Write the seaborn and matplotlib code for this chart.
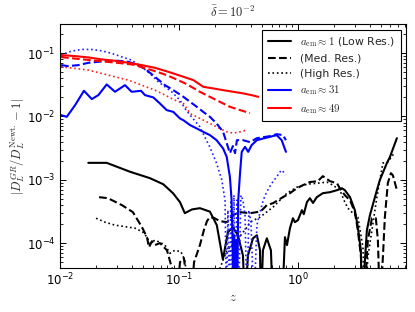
import numpy as np
import pandas as pd
import matplotlib
matplotlib.use("Agg")
import matplotlib.pyplot as plt
from matplotlib.lines import Line2D
import seaborn as sns

# ---------------- data ----------------
# a_em ~ 1, low resolution (black solid)
z_k_low = [0.0173, 0.0247, 0.0387, 0.057, 0.0738, 0.0891, 0.102, 0.112, 0.1286, 0.150, 0.182,
           0.208, 0.234, 0.258, 0.284, 0.313, 0.345, 0.359, 0.380, 0.419, 0.452, 0.48, 0.489,
           0.508, 0.548, 0.593, 0.617, 0.735, 0.778, 0.809, 0.857, 0.908, 0.943, 1.0, 1.08, 1.12,
           1.19, 1.26, 1.34, 1.44, 1.62, 1.86, 2.13, 2.34, 2.48, 2.74, 3.01, 3.19, 3.38, 3.45,
           3.80, 4.03, 4.61, 4.89, 5.60, 5.93, 6.79]
v_k_low = [1.85e-3, 1.85e-3, 1.34e-3, 1.06e-3, 8.5e-4, 6.14e-4, 4.43e-4, 2.97e-4, 3.4e-4, 3.56e-4, 3.14e-4,
           1.92e-4, 5.5e-5, 1.49e-4, 1.78e-4, 1.33e-4, 6.4e-5, 1e-5, 6.4e-5, 1.19e-4, 1.33e-4, 7.7e-5, 1e-5,
           7.7e-5, 1.19e-4, 7.7e-5, 1e-5, 1e-5, 1.24e-4, 9.3e-5, 1.72e-4, 2.47e-4, 2.14e-4, 2.3e-4, 3.31e-4, 2.86e-4,
           4.43e-4, 5.12e-4, 4.3e-4, 5.31e-4, 6.14e-4, 6.37e-4, 6.85e-4, 7.36e-4, 6.85e-4, 5.31e-4, 3.31e-4, 1.78e-4, 7.7e-5, 1e-5,
           1.6e-4, 2.76e-4, 6.85e-4, 1e-3, 1.84e-3, 2.28e-3, 4.54e-3]

# a_em ~ 1, medium resolution (black dashed)
z_k_med = [0.0213, 0.0253, 0.0332, 0.041, 0.0489, 0.0538, 0.056, 0.0593, 0.0628, 0.0692, 0.0793, 0.0891,
           0.095, 0.102, 0.110, 0.124, 0.134, 0.150, 0.162, 0.172, 0.182, 0.197, 0.221, 0.253, 0.284,
           0.326, 0.395, 0.452, 0.498, 0.548, 0.617, 0.748, 0.857, 0.981, 1.10, 1.26, 1.47, 1.62, 1.86,
           2.13, 2.25, 2.48, 2.74, 3.01, 3.19, 3.38, 3.59, 3.87, 4.19, 4.52, 4.70, 4.89, 5.18, 5.38,
           5.70, 6.05, 6.28, 6.79]
v_k_med = [5.31e-4, 5.12e-4, 3.97e-4, 3.08e-4, 1.78e-4, 1.24e-4, 8.6e-5, 1.07e-4, 9.3e-5, 1e-4, 7.7e-5, 3.5e-5,
           1e-5, 5e-5, 5.8e-5, 1e-5, 5e-5, 9.3e-5, 1.6e-4, 2.22e-4, 2.57e-4, 2.5e-4, 2.22e-4, 2.14e-4, 2.76e-4,
           3.08e-4, 2.97e-4, 3.08e-4, 3.31e-4, 3.97e-4, 4.27e-4, 5.31e-4, 6.14e-4, 7.36e-4, 8.2e-4, 9.2e-4, 9.5e-4, 1.14e-3, 9.5e-4,
           8.8e-4, 7.36e-4, 5.7e-4, 4.76e-4, 3.08e-4, 1.6e-4, 6.4e-5, 1e-5, 1.11e-4, 2.47e-4, 2.47e-4, 1.11e-4, 1e-5, 6e-5, 2.57e-4,
           8.9e-4, 1.27e-3, 1.18e-3, 6.85e-4]

# a_em ~ 1, high resolution (black dotted)
z_k_high = [0.0201, 0.0239, 0.0290, 0.0332, 0.0427, 0.0498, 0.0538, 0.057, 0.0628, 0.0692, 0.0763, 0.084,
            0.0924, 0.104, 0.112, 0.124, 0.165, 0.221, 0.253, 0.307, 0.373, 0.395, 0.48, 0.617, 0.809,
            0.981, 1.19, 1.44, 1.75, 1.97, 2.25, 2.48, 2.63, 2.84, 3.19, 3.52, 3.66, 3.87, 4.19, 4.61,
            4.89, 5.18, 5.70, 6.53]
v_k_high = [2.47e-4, 2.14e-4, 1.92e-4, 1.85e-4, 1.72e-4, 1.49e-4, 1.24e-4, 1e-4, 1.11e-4, 1.03e-4, 9.3e-5, 6.9e-5,
            7.7e-5, 7.3e-5, 5.4e-5, 1e-5, 1e-5, 4e-5, 7.7e-5, 1.11e-4, 1.78e-4, 2.14e-4, 2.57e-4, 3.69e-4, 6.14e-4,
            7.64e-4, 8.5e-4, 8.8e-4, 9.2e-4, 8.2e-4, 6.85e-4, 4.43e-4, 3.56e-4, 3.08e-4, 2.57e-4, 8.6e-5, 1e-5, 5.98e-5, 1.6e-4, 5.31e-4,
            1e-3, 1.84e-3, 1.9e-3, 2.73e-3]

# a_em ~ 31, low resolution (blue solid)
z_b_low = [0.0102, 0.0114, 0.0134, 0.0159, 0.0185, 0.0210, 0.0247, 0.0290, 0.0352, 0.040, 0.048, 0.0518,
           0.0608, 0.0692, 0.0788, 0.0896, 0.1019, 0.109, 0.124, 0.141, 0.160, 0.182, 0.207, 0.235, 0.252,
           0.268, 0.277, 0.282, 0.2855, 0.291, 0.297, 0.303, 0.308, 0.315, 0.326, 0.337, 0.359, 0.382,
           0.408, 0.452, 0.511, 0.582, 0.662, 0.730, 0.793]
v_b_low = [1.05e-2, 9.86e-3, 1.51e-2, 2.54e-2, 1.88e-2, 2.17e-2, 3.2e-2, 2.45e-2, 3.12e-2, 2.45e-2, 2.54e-2, 2.17e-2,
           2.0e-2, 1.6e-2, 1.26e-2, 1.18e-2, 9.3e-3, 8.7e-3, 7.3e-3, 6.46e-3, 5.71e-3, 5.07e-3, 4.22e-3, 3.12e-3, 2.3e-3,
           1.11e-3, 4.76e-4, 1.11e-4, 1e-5, 1.33e-4, 1e-5, 1.11e-4, 1e-5, 4.76e-4, 1.26e-3, 2.76e-3, 3.31e-3, 2.76e-3,
           3.52e-3, 4.22e-3, 4.49e-3, 4.76e-3, 5.07e-3, 4.22e-3, 2.76e-3]

# a_em ~ 31, medium resolution (blue dashed)
z_b_med = [0.0102, 0.0117, 0.0143, 0.0173, 0.0210, 0.0255, 0.0309, 0.0375, 0.0455, 0.0535, 0.0628, 0.0763,
           0.0896, 0.109, 0.124, 0.141, 0.160, 0.182, 0.207, 0.235, 0.252, 0.268, 0.284, 0.296, 0.307,
           0.345, 0.395, 0.452, 0.511, 0.582, 0.662, 0.748, 0.793]
v_b_med = [6.46e-2, 6.24e-2, 6.46e-2, 7.03e-2, 7.29e-2, 7.56e-2, 7.56e-2, 7.29e-2, 6.46e-2, 5.39e-2, 4.22e-2, 3.12e-2,
           2.6e-2, 2.04e-2, 1.7e-2, 1.42e-2, 1.18e-2, 9.86e-3, 7.75e-3, 5.71e-3, 3.79e-3, 2.63e-3, 3.4e-3, 2.63e-3, 4.22e-3,
           4.22e-3, 3.93e-3, 4.54e-3, 4.7e-3, 4.89e-3, 5.25e-3, 5.07e-3, 4.22e-3]

# a_em ~ 31, high resolution (blue dotted)
z_b_high = [0.0102, 0.0125, 0.0152, 0.0185, 0.0224, 0.0272, 0.033, 0.040, 0.0486, 0.059, 0.067, 0.0763,
            0.0868, 0.102, 0.112, 0.124, 0.150, 0.165, 0.182, 0.207, 0.229, 0.244, 0.2506, 0.258, 0.2655,
            0.2735, 0.282, 0.290, 0.2985, 0.307, 0.316, 0.332, 0.345, 0.359, 0.373, 0.387, 0.403, 0.427,
            0.452, 0.48, 0.511, 0.546, 0.601, 0.662, 0.706, 0.743, 0.778]
v_b_high = [9.3e-2, 0.1076, 0.1144, 0.114, 0.1087, 9.9e-2, 8.74e-2, 7.75e-2, 6.08e-2, 4.49e-2, 3.52e-2, 2.94e-2,
            2.45e-2, 1.81e-2, 1.34e-2, 1.05e-2, 6.85e-3, 4.71e-3, 3.27e-3, 1.83e-3, 1e-3, 4.76e-4, 1e-5, 3.31e-4, 1e-5,
            4.76e-4, 1e-5, 5.7e-4, 1e-5, 4.76e-4, 1e-5, 5.7e-4, 4.76e-4, 2.76e-4, 1e-5, 3.31e-4, 2.14e-4, 1e-5,
            1.92e-4, 3.08e-4, 4.76e-4, 6.44e-4, 8.74e-4, 1.11e-3, 1.33e-3, 1.41e-3, 1.18e-3]

# a_em ~ 49, low resolution (red solid)
z_r_low = [0.0102, 0.0134, 0.0173, 0.0224, 0.029, 0.0375, 0.0486, 0.0628, 0.0813, 0.105, 0.132, 0.160,
           0.194, 0.235, 0.286, 0.347, 0.408, 0.464]
v_r_low = [9.3e-2, 8.97e-2, 8.55e-2, 7.95e-2, 7.56e-2, 7.03e-2, 6.46e-2, 5.86e-2, 5.07e-2, 4.33e-2, 3.75e-2, 2.94e-2,
           2.77e-2, 2.6e-2, 2.45e-2, 2.31e-2, 2.17e-2, 2.04e-2]

# a_em ~ 49, medium resolution (red dashed)
z_r_med = [0.0102, 0.0134, 0.0179, 0.0239, 0.032, 0.041, 0.0518, 0.0628, 0.0788, 0.0982, 0.116, 0.150,
           0.182, 0.221, 0.268, 0.326, 0.395]
v_r_med = [8.65e-2, 8.19e-2, 7.75e-2, 7.34e-2, 6.95e-2, 6.58e-2, 5.8e-2, 5.2e-2, 4.49e-2, 3.75e-2, 3.24e-2, 2.45e-2,
           2.04e-2, 1.7e-2, 1.42e-2, 1.26e-2, 1.13e-2]

# a_em ~ 49, high resolution (red dotted)
z_r_high = [0.0102, 0.0134, 0.0173, 0.0224, 0.029, 0.0375, 0.0486, 0.0628, 0.0763, 0.0924, 0.109, 0.124,
            0.150, 0.182, 0.221, 0.252, 0.286, 0.326, 0.371]
v_r_high = [6.08e-2, 5.73e-2, 5.39e-2, 4.78e-2, 4.22e-2, 3.75e-2, 3.12e-2, 2.6e-2, 2.17e-2, 1.81e-2, 1.6e-2, 1.11e-2,
            9.3e-3, 7.75e-3, 6.46e-3, 5.71e-3, 5.45e-3, 5.71e-3, 6.08e-3]

legend_labels = [r"$a_{\rm em}\approx 1$ (Low Res.)", "(Med. Res.)", "(High Res.)",
                 r"$a_{\rm em}\approx 31$", r"$a_{\rm em}\approx 49$"]
title_text = r"$\bar{\delta} = 10^{-2}$"
xlabel_text = r"$z$"
ylabel_text = r"$|D_L^{GR}/D_L^{\rm Newt.}-1|$"

# ---------------- plotting ----------------
sns.set_style("ticks")
plt.rcParams["font.family"] = ["DejaVu Sans"]
plt.rcParams["mathtext.fontset"] = "dejavusans"

fig = plt.figure(figsize=(4.15, 3.12), dpi=100)
ax = fig.add_axes([60/415, 1 - 268.3/312, 346/415, 244/312])

series = [
    (z_k_low, v_k_low, "black", "-", 1.5),
    (z_k_med, v_k_med, "black", "--", 1.5),
    (z_k_high, v_k_high, "black", ":", 1.2),
    (z_r_high, v_r_high, "#ff2020", ":", 1.2),
    (z_b_high, v_b_high, "#2020ff", ":", 1.2),
    (z_b_med, v_b_med, "#0000ff", "--", 1.5),
    (z_b_low, v_b_low, "#0000ff", "-", 1.5),
    (z_r_med, v_r_med, "#ff0000", "--", 1.5),
    (z_r_low, v_r_low, "#ff0000", "-", 1.5),
]
for zz, vv, col, ls, lw in series:
    df = pd.DataFrame({"z": zz, "v": vv})
    sns.lineplot(data=df, x="z", y="v", ax=ax, color=col, linestyle=ls, linewidth=lw,
                 estimator=None, sort=False, legend=False)

ax.set_xscale("log")
ax.set_yscale("log")
ax.set_xlim(0.01, 8.1)
ax.set_ylim(4.0e-5, 0.285)

ax.tick_params(which="both", direction="in", top=True, right=True, labelsize=8.5, colors="black")
ax.tick_params(which="major", length=4, width=0.7)
ax.tick_params(which="minor", length=2, width=0.6)
ax.tick_params(axis="x", pad=2.5)
ax.tick_params(axis="y", pad=3)
for sp in ax.spines.values():
    sp.set_linewidth(0.8)
    sp.set_color("black")

t = ax.set_title(title_text, fontsize=9, pad=5)
t.set_math_fontfamily("cm")
xl = ax.set_xlabel(xlabel_text, fontsize=9, labelpad=2)
xl.set_math_fontfamily("cm")
yl = ax.set_ylabel(ylabel_text, fontsize=9, labelpad=0)
yl.set_math_fontfamily("cm")

handles = [Line2D([], [], color="black", ls="-", lw=1.5),
           Line2D([], [], color="black", ls="--", lw=1.5),
           Line2D([], [], color="black", ls=":", lw=1.2),
           Line2D([], [], color="#0000ff", ls="-", lw=1.5),
           Line2D([], [], color="#ff0000", ls="-", lw=1.5)]
leg = ax.legend(handles, legend_labels, loc="upper right", fontsize=7.8, frameon=True,
                fancybox=False, edgecolor="black", framealpha=1, borderpad=0.5,
                labelspacing=0.45, handlelength=2.2, borderaxespad=0.5)
leg.get_frame().set_linewidth(0.8)
for txt in leg.get_texts():
    txt.set_math_fontfamily("cm")

fig.savefig("out.png", dpi=100)
